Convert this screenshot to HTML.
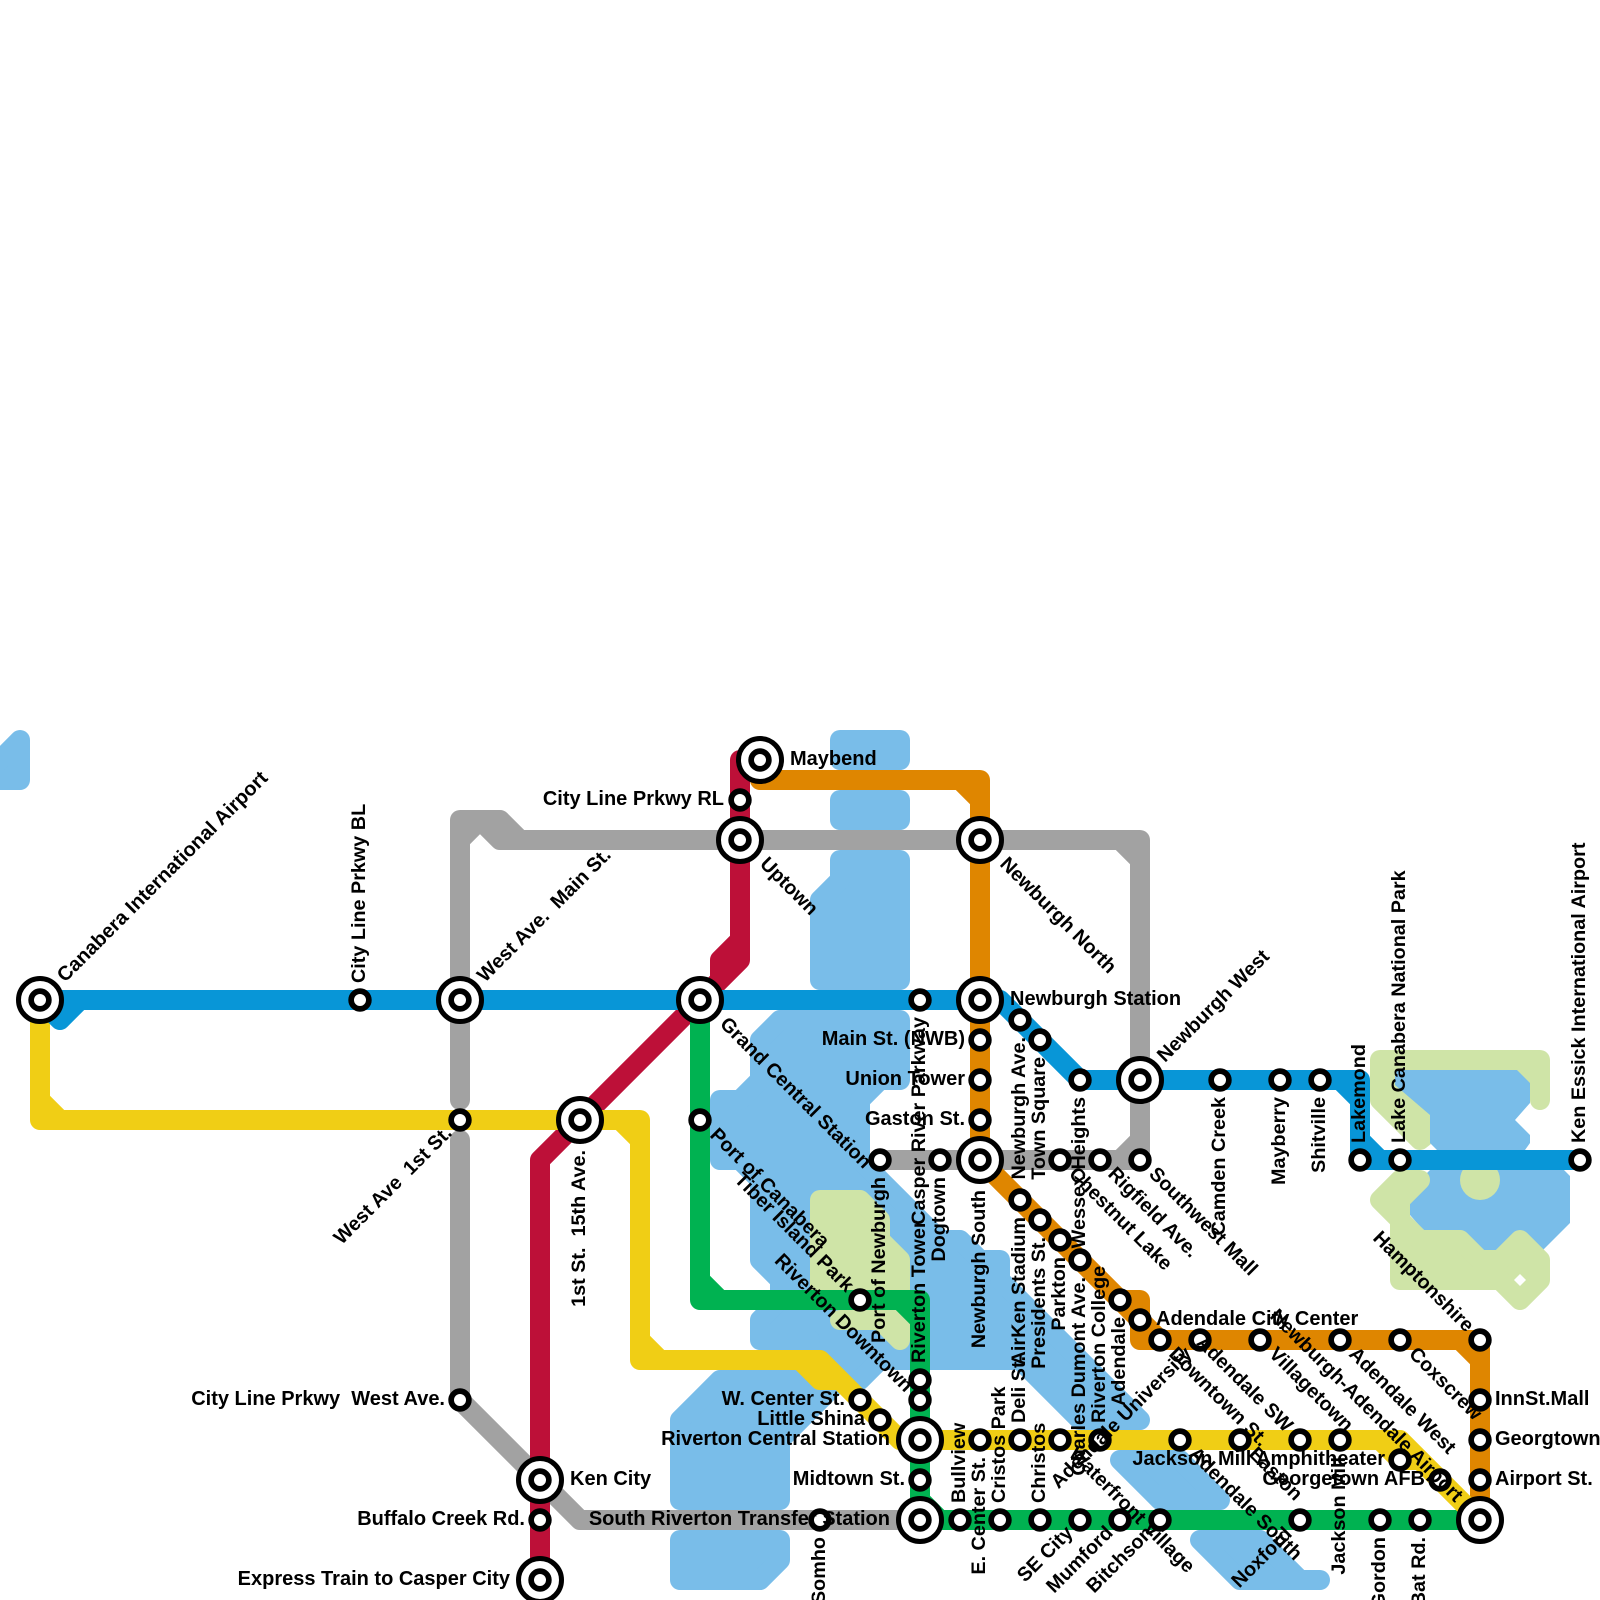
<!DOCTYPE html>
<html>
<head>
<meta charset="utf-8">
<style>
html,body{margin:0;padding:0;background:#fff}
svg{display:block}
text{font-family:"Liberation Sans",sans-serif;font-weight:bold;font-size:20px;fill:#000;white-space:pre}
text.r{font-size:19.8px}
.e{text-anchor:end}
.l path{fill:none;stroke-width:20;stroke-linecap:round;stroke-linejoin:round}
.w{fill:#79bde9;stroke:#79bde9;stroke-width:20;stroke-linejoin:round;stroke-linecap:round}
.p{fill:#cfe4a7;stroke:#cfe4a7;stroke-width:20;stroke-linejoin:round;stroke-linecap:round}
.s circle{fill:#fff;stroke:#000;stroke-width:5.7}
.b circle{fill:#fff;stroke:#000;stroke-width:5}
.b circle.i{stroke-width:5.7}
</style>
</head>
<body>
<svg width="1600" height="1600" viewBox="0 0 1600 1600" xmlns="http://www.w3.org/2000/svg">
<rect width="1600" height="1600" fill="#fff"/>
<!-- water -->
<polygon class="w" points="20,740 20,780 0,780 -10,780 -10,770 0,760"/>
<polygon class="w" points="840,740 900,740 900,760 840,760"/>
<polygon class="w" points="840,800 900,800 900,820 840,820"/>
<polygon class="w" points="840,860 900,860 900,980 820,980 820,900 840,880"/>
<polygon class="w" points="780,1020 900,1020 900,1080 880,1080 860,1100 860,1160 880,1180 940,1240 960,1240 980,1260 1000,1260 1000,1280 1140,1420 1080,1420 1020,1360 940,1360 900,1360 880,1360 860,1380 840,1380 780,1440 780,1500 680,1500 680,1420 720,1380 800,1380 810,1340 760,1340 760,1320 780,1300 780,1280 760,1260 760,1180 740,1160 720,1160 720,1100 740,1100 760,1080 760,1040"/>
<polygon class="w" points="680,1540 780,1540 780,1560 760,1580 680,1580"/>
<polygon class="w" points="1120,1460 1180,1460 1220,1500 1160,1500"/>
<polygon class="w" points="1200,1540 1260,1540 1300,1580 1320,1580 1240,1580"/>
<!-- parks + lakes -->
<polygon class="p" points="1380,1060 1520,1060 1420,1140 1380,1100"/>
<path class="p" style="fill:none" d="M1520,1060 L1540,1060 L1540,1100 M1520,1060 L1540,1080"/>
<polygon fill="#79bde9" points="1395,1070 1517,1070 1530,1083 1530,1103 1515,1120 1530,1135 1530,1143 1525,1150 1437,1150 1430,1143 1430,1115 1395,1085"/>
<polygon fill="#79bde9" points="1430,1170 1564,1170 1570,1176 1570,1223 1540,1253 1515,1235 1497,1250 1483,1250 1465,1232 1425,1232 1410,1215 1410,1190"/>
<circle cx="1480" cy="1180" r="20" fill="#cfe4a7"/>
<polygon class="p" points="1380,1200 1400,1180 1420,1180 1400,1200 1400,1220 1420,1240 1460,1240 1480,1260 1500,1260 1520,1240 1540,1260 1540,1280 1520,1300 1500,1280 1400,1280 1400,1220"/>
<polygon fill="#fff" points="1520,1274 1526,1280 1520,1286 1514,1280"/>
<polygon class="p" points="820,1200 860,1200 880,1220 880,1240 900,1260 900,1290 820,1290"/>
<polygon class="p" points="840,1320 900,1320 900,1340 880,1320"/>
<!-- lines -->
<g class="l">
<path stroke="#a2a2a2" d="M460,1100 V820 H500 L520,840 H1140 V1160 H880 M460,840 L480,820 L500,840 H520 M1120,840 L1140,860 M1120,1160 L1140,1140 M460,1140 V1400 L580,1520 H920"/>
<path stroke="#bd1038" d="M740,760 V960 L580,1120 L540,1160 V1580 M740,940 L720,960 V980 L700,1000"/>
<path stroke="#df8600" d="M760,760 V780 H980 V1160 L1120,1300 H1140 V1340 H1480 V1520 M960,780 L980,800 M1120,1300 L1160,1340 M1460,1340 L1480,1360"/>
<path stroke="#00b251" d="M700,1000 V1300 H920 V1520 H1480 M700,1280 L720,1300 M900,1300 L920,1320 M920,1500 L940,1520"/>
<path stroke="#f0ce15" d="M40,1000 V1120 H640 V1360 H820 L900,1440 H1400 L1480,1520 M40,1100 L60,1120 M620,1120 L640,1140 M640,1340 L660,1360 M800,1360 L820,1380 H840 M1380,1440 L1400,1460 L1420,1460"/>
<path stroke="#0896d7" d="M40,1000 H1000 L1080,1080 H1360 V1160 H1580 M40,1000 L60,1020 L80,1000 M1340,1080 L1360,1100 M1360,1140 L1380,1160"/>
</g>
<!-- small stations -->
<g class="s">
<circle cx="360" cy="1000" r="8.85"/><circle cx="740" cy="800" r="8.85"/><circle cx="460" cy="1120" r="8.85"/><circle cx="700" cy="1120" r="8.85"/><circle cx="460" cy="1400" r="8.85"/><circle cx="540" cy="1520" r="8.85"/><circle cx="920" cy="1000" r="8.85"/><circle cx="1020" cy="1020" r="8.85"/><circle cx="1040" cy="1040" r="8.85"/><circle cx="1080" cy="1080" r="8.85"/><circle cx="1220" cy="1080" r="8.85"/><circle cx="1280" cy="1080" r="8.85"/><circle cx="1320" cy="1080" r="8.85"/><circle cx="1360" cy="1160" r="8.85"/><circle cx="1400" cy="1160" r="8.85"/><circle cx="1580" cy="1160" r="8.85"/><circle cx="980" cy="1040" r="8.85"/><circle cx="980" cy="1080" r="8.85"/><circle cx="980" cy="1120" r="8.85"/><circle cx="880" cy="1160" r="8.85"/><circle cx="940" cy="1160" r="8.85"/><circle cx="1060" cy="1160" r="8.85"/><circle cx="1100" cy="1160" r="8.85"/><circle cx="1140" cy="1160" r="8.85"/><circle cx="1020" cy="1200" r="8.85"/><circle cx="1040" cy="1220" r="8.85"/><circle cx="1060" cy="1240" r="8.85"/><circle cx="1080" cy="1260" r="8.85"/><circle cx="1120" cy="1300" r="8.85"/><circle cx="1140" cy="1320" r="8.85"/><circle cx="1160" cy="1340" r="8.85"/><circle cx="1200" cy="1340" r="8.85"/><circle cx="1260" cy="1340" r="8.85"/><circle cx="1340" cy="1340" r="8.85"/><circle cx="1400" cy="1340" r="8.85"/><circle cx="1480" cy="1340" r="8.85"/><circle cx="1480" cy="1400" r="8.85"/><circle cx="1480" cy="1440" r="8.85"/><circle cx="1480" cy="1480" r="8.85"/><circle cx="1400" cy="1460" r="8.85"/><circle cx="1440" cy="1480" r="8.85"/><circle cx="1340" cy="1440" r="8.85"/><circle cx="1300" cy="1440" r="8.85"/><circle cx="1240" cy="1440" r="8.85"/><circle cx="1180" cy="1440" r="8.85"/><circle cx="1100" cy="1440" r="8.85"/><circle cx="1060" cy="1440" r="8.85"/><circle cx="1020" cy="1440" r="8.85"/><circle cx="980" cy="1440" r="8.85"/><circle cx="860" cy="1300" r="8.85"/><circle cx="860" cy="1400" r="8.85"/><circle cx="880" cy="1420" r="8.85"/><circle cx="920" cy="1380" r="8.85"/><circle cx="920" cy="1400" r="8.85"/><circle cx="920" cy="1480" r="8.85"/><circle cx="960" cy="1520" r="8.85"/><circle cx="1000" cy="1520" r="8.85"/><circle cx="1040" cy="1520" r="8.85"/><circle cx="1080" cy="1520" r="8.85"/><circle cx="1120" cy="1520" r="8.85"/><circle cx="1160" cy="1520" r="8.85"/><circle cx="1300" cy="1520" r="8.85"/><circle cx="1380" cy="1520" r="8.85"/><circle cx="1420" cy="1520" r="8.85"/><circle cx="820" cy="1520" r="8.85"/>
</g>
<!-- interchange stations -->
<g class="b">
<circle cx="40" cy="1000" r="21.5"/><circle class="i" cx="40" cy="1000" r="8.85"/>
<circle cx="460" cy="1000" r="21.5"/><circle class="i" cx="460" cy="1000" r="8.85"/>
<circle cx="700" cy="1000" r="21.5"/><circle class="i" cx="700" cy="1000" r="8.85"/>
<circle cx="760" cy="760" r="21.5"/><circle class="i" cx="760" cy="760" r="8.85"/>
<circle cx="740" cy="840" r="21.5"/><circle class="i" cx="740" cy="840" r="8.85"/>
<circle cx="980" cy="840" r="21.5"/><circle class="i" cx="980" cy="840" r="8.85"/>
<circle cx="980" cy="1000" r="21.5"/><circle class="i" cx="980" cy="1000" r="8.85"/>
<circle cx="980" cy="1160" r="21.5"/><circle class="i" cx="980" cy="1160" r="8.85"/>
<circle cx="1140" cy="1080" r="21.5"/><circle class="i" cx="1140" cy="1080" r="8.85"/>
<circle cx="580" cy="1120" r="21.5"/><circle class="i" cx="580" cy="1120" r="8.85"/>
<circle cx="540" cy="1480" r="21.5"/><circle class="i" cx="540" cy="1480" r="8.85"/>
<circle cx="540" cy="1580" r="21.5"/><circle class="i" cx="540" cy="1580" r="8.85"/>
<circle cx="920" cy="1440" r="21.5"/><circle class="i" cx="920" cy="1440" r="8.85"/>
<circle cx="920" cy="1520" r="21.5"/><circle class="i" cx="920" cy="1520" r="8.85"/>
<circle cx="1480" cy="1520" r="21.5"/><circle class="i" cx="1480" cy="1520" r="8.85"/>
</g>
<!-- horizontal labels -->
<text x="790" y="765">Maybend</text>
<text x="1010" y="1005">Newburgh Station</text>
<text x="570" y="1485">Ken City</text>
<text x="1156" y="1325">Adendale City Center</text>
<text x="1495" y="1405">InnSt.Mall</text>
<text x="1495" y="1445">Georgtown</text>
<text x="1495" y="1485">Airport St.</text>
<text class="e" x="724" y="805">City Line Prkwy RL</text>
<text class="e" x="965" y="1045">Main St. (NWB)</text>
<text class="e" x="965" y="1085">Union Tower</text>
<text class="e" x="965" y="1125">Gaston St.</text>
<text class="e" x="445" y="1405">City Line Prkwy  West Ave.</text>
<text class="e" x="525" y="1525">Buffalo Creek Rd.</text>
<text class="e" x="510" y="1585">Express Train to Casper City</text>
<text class="e" x="845" y="1405">W. Center St.</text>
<text class="e" x="865" y="1425">Little Shina</text>
<text class="e" x="890" y="1445">Riverton Central Station</text>
<text class="e" x="905" y="1485">Midtown St.</text>
<text class="e" x="890" y="1525">South Riverton Transfer Station</text>
<text class="e" x="1385" y="1465">Jackson Mill Amphitheater</text>
<text class="e" x="1425" y="1485">Georgetown AFB</text>
<!-- vertical up -->
<text class="r" transform="translate(365,983) rotate(-90)">City Line Prkwy BL</text>
<text class="r" transform="translate(1365,1143) rotate(-90)">Lakemond</text>
<text class="r" transform="translate(1405,1143) rotate(-90)">Lake Canabera National Park</text>
<text class="r" transform="translate(1585,1143) rotate(-90)">Ken Essick International Airport</text>
<text class="r" transform="translate(925,1363) rotate(-90)">Riverton Tower</text>
<text class="r" transform="translate(965,1503) rotate(-90)">Bullview</text>
<text class="r" transform="translate(1005,1503) rotate(-90)">Cristos Park</text>
<text class="r" transform="translate(1025,1423) rotate(-90)">Deli St.</text>
<text class="r" transform="translate(1045,1503) rotate(-90)">Christos</text>
<text class="r" transform="translate(1105,1423) rotate(-90)">Riverton College</text>
<!-- vertical down -->
<text class="e r" transform="translate(585,1150) rotate(-90)">1st St.  15th Ave.</text>
<text class="e r" transform="translate(925,1017) rotate(-90)">Casper River Parkway</text>
<text class="e r" transform="translate(1025,1037) rotate(-90)">Newburgh Ave.</text>
<text class="e r" transform="translate(1045,1057) rotate(-90)">Town Square</text>
<text class="e r" transform="translate(1085,1097) rotate(-90)">Wessex Heights</text>
<text class="e r" transform="translate(1225,1097) rotate(-90)">Camden Creek</text>
<text class="e r" transform="translate(1285,1097) rotate(-90)">Mayberry</text>
<text class="e r" transform="translate(1325,1097) rotate(-90)">Shitville</text>
<text class="e r" transform="translate(885,1177) rotate(-90)">Port of Newburgh</text>
<text class="e r" transform="translate(945,1177) rotate(-90)">Dogtown</text>
<text class="e r" transform="translate(985,1190) rotate(-90)">Newburgh South</text>
<text class="e r" transform="translate(1025,1217) rotate(-90)">AirKen Stadium</text>
<text class="e r" transform="translate(1045,1237) rotate(-90)">Presidents St.</text>
<text class="e r" transform="translate(1065,1257) rotate(-90)">Parkton</text>
<text class="e r" transform="translate(1085,1277) rotate(-90)">Charles Dumont Ave.</text>
<text class="e r" transform="translate(1125,1317) rotate(-90)">Adendale</text>
<text class="e r" transform="translate(985,1457) rotate(-90)">E. Center St.</text>
<text class="e r" transform="translate(825,1537) rotate(-90)">Somho</text>
<text class="e r" transform="translate(1345,1457) rotate(-90)">Jackson Mill</text>
<text class="e r" transform="translate(1385,1537) rotate(-90)">Gordon</text>
<text class="e r" transform="translate(1425,1537) rotate(-90)">Bat Rd.</text>
<!-- diagonal up-right -->
<text transform="translate(65,983) rotate(-45)">Canabera International Airport</text>
<text class="r" transform="translate(485,983) rotate(-45)">West Ave.  Main St.</text>
<text class="r" transform="translate(1165,1063) rotate(-45)">Newburgh West</text>
<text class="e r" transform="translate(453,1134) rotate(-45)">West Ave  1st St.</text>
<text class="e r" transform="translate(1074,1534) rotate(-45)">SE City</text>
<text class="e r" transform="translate(1114,1534) rotate(-45)">Mumford</text>
<text class="e r" transform="translate(1154,1534) rotate(-45)">Bitchson</text>
<text class="e r" transform="translate(1193,1355) rotate(-45)">Adendale University</text>
<text class="e r" transform="translate(1293,1535) rotate(-45)">Noxford</text>
<!-- diagonal down-right -->
<text class="r" transform="translate(719,1025) rotate(45)">Grand Central Station</text>
<text class="r" transform="translate(759,865) rotate(45)">Uptown</text>
<text class="r" transform="translate(999,865) rotate(45)">Newburgh North</text>
<text class="r" transform="translate(709,1136) rotate(45)">Port of Canabera</text>
<text class="r" transform="translate(1068,1175) rotate(45)">Chestnut Lake</text>
<text class="r" transform="translate(1107,1175) rotate(45)">Rigfield Ave.</text>
<text class="r" transform="translate(1148,1175) rotate(45)">Southwest Mall</text>
<text class="r" transform="translate(1168,1355) rotate(45)">Downtown St.</text>
<text class="r" transform="translate(1268,1355) rotate(45)">Villagetown</text>
<text class="r" transform="translate(1348,1355) rotate(45)">Adendale West</text>
<text class="r" transform="translate(1408,1355) rotate(45)">Coxscrew</text>
<text class="r" transform="translate(1068,1455) rotate(45)">Waterfront Village</text>
<text class="r" transform="translate(1188,1455) rotate(45)">Adendale South</text>
<text class="r" transform="translate(1248,1455) rotate(45)">Easton</text>
<text class="e r" transform="translate(846,1293) rotate(45)">Tiber Island Park</text>
<text class="e r" transform="translate(905,1393) rotate(45)">Riverton Downtown</text>
<text class="e r" transform="translate(1285,1433) rotate(45)">Adendale SW</text>
<text class="e r" transform="translate(1466,1333) rotate(45)">Hamptonshire</text>
<text class="e r" transform="translate(1455,1503) rotate(45)">Newburgh-Adendale Airport</text>
</svg>
</body>
</html>
